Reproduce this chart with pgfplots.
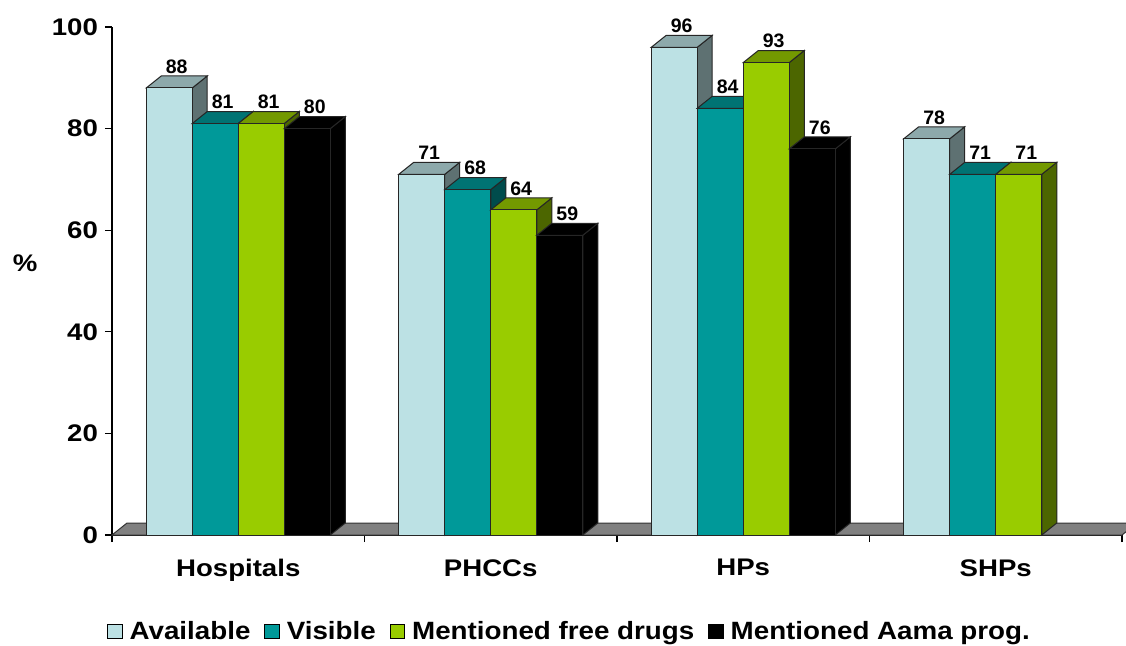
\documentclass[border=0pt]{standalone}
\usepackage{fontspec}
\setmainfont{Liberation Sans}
\newfontfamily\axfont{Liberation Sans}[FakeStretch=1.15]
\newfontfamily\legfont{Liberation Sans}[FakeStretch=1.11]
\usepackage{pgfplots}
\usepackage{pgfplotstable}
\pgfplotsset{compat=1.18}

\definecolor{avail}{HTML}{BCE1E4}
\definecolor{visib}{HTML}{009999}
\definecolor{drugs}{HTML}{99CC00}
\definecolor{aama}{HTML}{000000}
\definecolor{floorgrey}{HTML}{808080}

% Share of facilities (%) by facility type
\pgfplotstableread{
x avail visib drugs aama
0 88 81 81 80
1 71 68 64 59
2 96 84 93 76
3 78 71 71 nan
}\datatable

% bar geometry in axis units
\def\gleft{0.1356}   % gap before first bar of a group
\def\bw{0.1822}      % bar width
\def\ddx{0.0594}     % depth offset, x
\def\ddy{2.36}       % depth offset, y
\def\nanval{nan}

\pgfplotsset{
  legbox/.style={legend image code/.code={%
      \draw[##1, draw=black, line width=0.5pt] (0pt,-3.6pt) rectangle (7.2pt,3.6pt);}},
  frontbar/.style={ybar, bar width=\bw, bar shift=0pt, draw=black!85, line width=0.5pt,
      legbox, nodes near coords,
      every node near coord/.append style={anchor=south, inner sep=0pt,
        xshift=3.75pt, yshift=7pt, font=\bfseries\fontsize{9.75}{11}\selectfont, text=black}},
}

% top and side faces of one bar: row, column, slot, colour
\newcommand\barfaces[4]{%
  \pgfplotstablegetelem{#1}{#2}\of\datatable
  \edef\val{\pgfplotsretval}%
  \ifx\val\nanval\else
    \pgfmathsetmacro\xl{#1+\gleft+#3*\bw}%
    \pgfmathsetmacro\xr{\xl+\bw}%
    \pgfmathsetmacro\xlb{\xl+\ddx}%
    \pgfmathsetmacro\xrb{\xr+\ddx}%
    \pgfmathsetmacro\yb{\val+\ddy}%
    \edef\next{%
      \noexpand\addplot[forget plot, fill=#4!50!black, draw=black!85, line width=0.5pt]
        coordinates {(\xr,0) (\xrb,\ddy) (\xrb,\yb) (\xr,\val)} -- cycle;
      \noexpand\addplot[forget plot, fill=#4!75!black, draw=black!85, line width=0.5pt]
        coordinates {(\xl,\val) (\xr,\val) (\xrb,\yb) (\xlb,\yb)} -- cycle;
    }\next
  \fi
}
\newcommand\seriesfaces[3]{%
  \barfaces{0}{#1}{#2}{#3}\barfaces{1}{#1}{#2}{#3}%
  \barfaces{2}{#1}{#2}{#3}\barfaces{3}{#1}{#2}{#3}%
}

\begin{document}
\begin{tikzpicture}
\begin{axis}[
  scale only axis, width=505pt, height=254pt,
  xmin=0, xmax=4, ymin=0, ymax=100,
  clip=false,
  axis lines=left, axis line style={-, black, line width=0.6pt},
  xtick={0,1,2,3,4}, xticklabels={},
  extra x ticks={0.5,1.5,2.5,3.5},
  extra x tick labels={Hospitals,PHCCs,HPs,SHPs},
  extra x tick style={major tick length=0pt,
    tick label style={font=\axfont\bfseries\fontsize{12}{14}\selectfont,
      anchor=north, inner sep=0pt, yshift=-12pt}},
  ytick={0,20,...,100},
  tick align=outside, major tick length=3.5pt,
  tick style={black, line width=0.6pt},
  yticklabel style={font=\axfont\bfseries\fontsize{12}{14}\selectfont},
  /pgf/number format/assume math mode=true,
  every axis y label/.style={at={(axis description cs:-0.086,0.535)}, anchor=center},
  ylabel={\axfont\bfseries\fontsize{12}{14}\selectfont\%},
  legend style={at={(0.454,-0.19)}, anchor=center, draw=none, fill=none,
    legend columns=-1, inner sep=0pt,
    font=\legfont\bfseries\fontsize{12.5}{15}\selectfont,
    /tikz/every odd column/.append style={column sep=1.5pt},
    /tikz/every even column/.append style={column sep=5pt}},
]
% floor
\addplot[forget plot, fill=floorgrey, draw=black!80, line width=0.5pt]
  coordinates {(0,0) (4,0) (4.0594,2.36) (0.0594,2.36)} -- cycle;

\seriesfaces{avail}{0}{avail}
\addplot[frontbar, fill=avail] table[x expr=\thisrow{x}+0.2267, y=avail] {\datatable};
\addlegendentry{Available}

\seriesfaces{visib}{1}{visib}
\addplot[frontbar, fill=visib] table[x expr=\thisrow{x}+0.4089, y=visib] {\datatable};
\addlegendentry{Visible}

\seriesfaces{drugs}{2}{drugs}
\addplot[frontbar, fill=drugs] table[x expr=\thisrow{x}+0.5911, y=drugs] {\datatable};
\addlegendentry{Mentioned free drugs}

\seriesfaces{aama}{3}{aama}
\addplot[frontbar, fill=aama] table[x expr=\thisrow{x}+0.7733, y=aama] {\datatable};
\addlegendentry{Mentioned Aama prog.}
\end{axis}
\pgfresetboundingbox
\path[use as bounding box] ([xshift=-56pt,yshift=-55pt]current axis.south west)
  rectangle ++(563pt,322.5pt);
\end{tikzpicture}
\end{document}
